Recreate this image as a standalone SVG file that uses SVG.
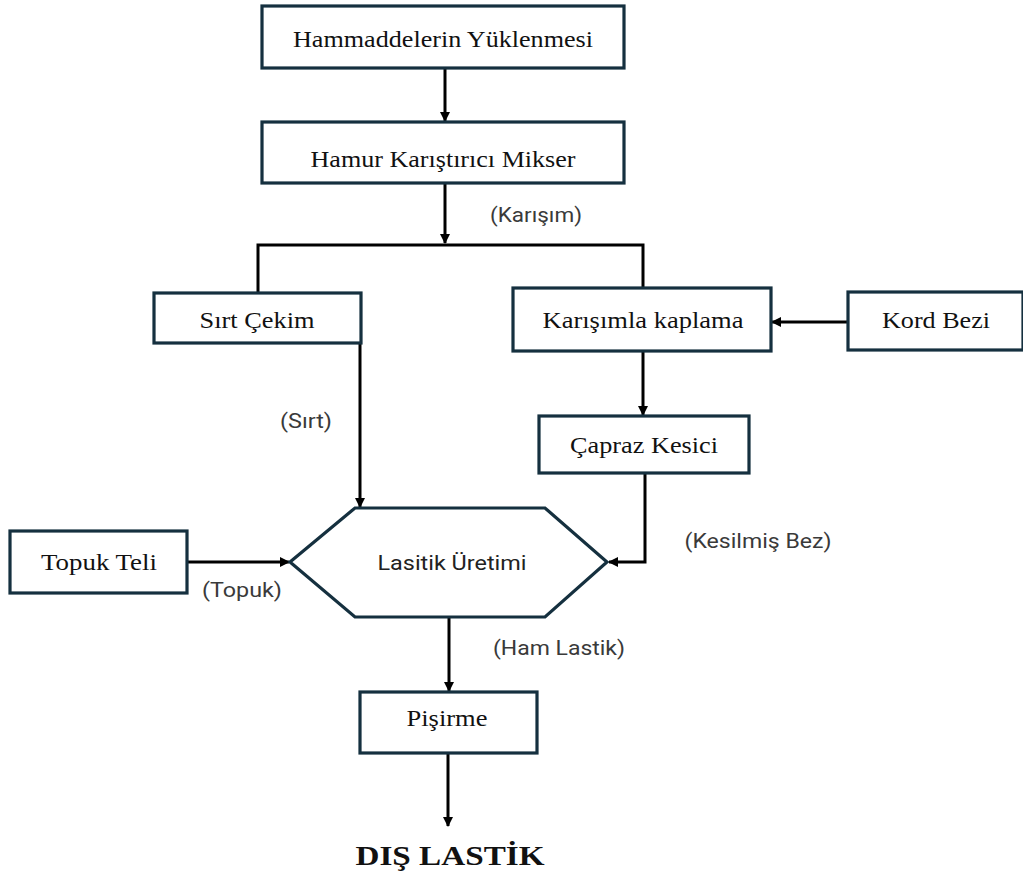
<svg xmlns="http://www.w3.org/2000/svg" width="1023" height="876" viewBox="0 0 1023 876">
<defs>
<marker id="ah" viewBox="0 0 10 10" refX="9" refY="5" markerWidth="10" markerHeight="10" markerUnits="userSpaceOnUse" orient="auto">
<path d="M0,0 L10,5 L0,10 z" fill="#000"/>
</marker>
<style>
.box{fill:#fff;stroke:#15303f;stroke-width:3.2}
.lbl{font-family:"Liberation Serif","Times New Roman",serif;font-size:23.5px;fill:#111;text-anchor:middle}
.sl{font-family:Roboto,"Liberation Sans",sans-serif;font-size:20px;fill:#3a3a3a;text-anchor:middle}
.c{fill:none;stroke:#000;stroke-width:3}
.ca{fill:none;stroke:#000;stroke-width:3;marker-end:url(#ah)}
</style>
</defs>
<rect width="1023" height="876" fill="#fff"/>
<g id="connectors">
<path class="ca" d="M445,68 V121"/>
<path class="ca" d="M445,183 V243"/>
<path class="c" d="M258,293 V245 H643 V288"/>
<path class="ca" d="M360,318 V507"/>
<path class="ca" d="M847,322 H772"/>
<path class="ca" d="M643,351 V415"/>
<path class="ca" d="M645,473 V562 H609"/>
<path class="ca" d="M187,562 H289"/>
<path class="ca" d="M449,617 V691"/>
<path class="ca" d="M448,753 V826"/>
</g>
<g id="n1"><rect class="box" x="262" y="6" width="362" height="62"/><text class="lbl" x="443" y="47" textLength="300" lengthAdjust="spacingAndGlyphs">Hammaddelerin Yüklenmesi</text></g>
<g id="n2"><rect class="box" x="262" y="122" width="362" height="61"/><text class="lbl" x="443" y="167" textLength="265" lengthAdjust="spacingAndGlyphs">Hamur Karıştırıcı Mikser</text></g>
<g id="n3"><rect class="box" x="154" y="293" width="207" height="50"/><text class="lbl" x="257" y="328" textLength="115" lengthAdjust="spacingAndGlyphs">Sırt Çekim</text></g>
<g id="n4"><rect class="box" x="513" y="288" width="258" height="63"/><text class="lbl" x="643" y="328" textLength="201" lengthAdjust="spacingAndGlyphs">Karışımla kaplama</text></g>
<g id="n5"><rect class="box" x="848" y="292" width="175" height="58"/><text class="lbl" x="936" y="328" textLength="108" lengthAdjust="spacingAndGlyphs">Kord Bezi</text></g>
<g id="n6"><rect class="box" x="539" y="416" width="210" height="57"/><text class="lbl" x="644" y="453" textLength="148" lengthAdjust="spacingAndGlyphs">Çapraz Kesici</text></g>
<g id="n7"><rect class="box" x="10" y="531" width="177" height="62"/><text class="lbl" x="99" y="570" textLength="116" lengthAdjust="spacingAndGlyphs">Topuk Teli</text></g>
<g id="n8"><polygon class="box" points="290,562 355,508 545,508 607,562 545,617 355,617"/><text class="sl" x="452" y="570" textLength="149" lengthAdjust="spacingAndGlyphs" style="fill:#222">Lasitik Üretimi</text></g>
<g id="n9"><rect class="box" x="360" y="692" width="177" height="61"/><text class="lbl" x="447" y="726" textLength="81" lengthAdjust="spacingAndGlyphs">Pişirme</text></g>
<g id="n10"><text x="450" y="865" text-anchor="middle" font-family="Liberation Serif,serif" font-weight="bold" font-size="27" fill="#111" textLength="189" lengthAdjust="spacingAndGlyphs">DIŞ LASTİK</text></g>
<g id="labels">
<text class="sl" x="536" y="222" textLength="92" lengthAdjust="spacingAndGlyphs">(Karışım)</text>
<text class="sl" x="306" y="428" textLength="52" lengthAdjust="spacingAndGlyphs">(Sırt)</text>
<text class="sl" x="242" y="597" textLength="80" lengthAdjust="spacingAndGlyphs">(Topuk)</text>
<text class="sl" x="559" y="655" textLength="132" lengthAdjust="spacingAndGlyphs">(Ham Lastik)</text>
<text class="sl" x="758" y="548" textLength="147" lengthAdjust="spacingAndGlyphs">(Kesilmiş Bez)</text>
</g>
</svg>
